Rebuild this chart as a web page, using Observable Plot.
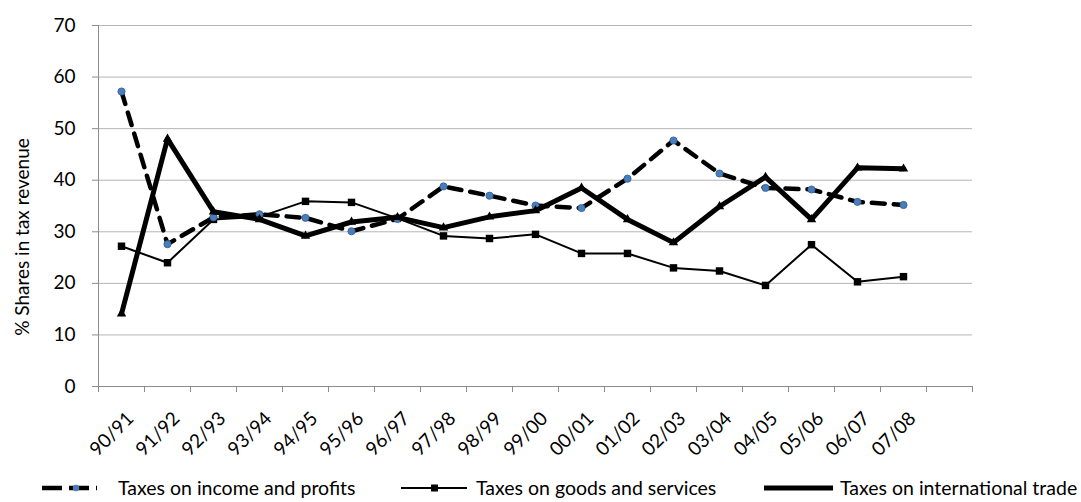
<!DOCTYPE html>
<html><head><meta charset="utf-8">
<script src="https://cdn.jsdelivr.net/npm/d3@7"></script>
<script src="https://cdn.jsdelivr.net/npm/@observablehq/plot@0.6"></script>
<style>
body{margin:0;background:#fff;font-family:Lato,sans-serif;}
#wrap{position:relative;width:1081px;height:502px;overflow:hidden;background:#fff}
#chart{position:absolute;left:0;top:0}
#legend{position:absolute;left:0;top:470px;width:1081px;height:32px}
</style></head><body>
<div id="wrap"><div id="chart"></div><div id="legend"></div></div>
<script>
const years = ["90/91","91/92","92/93","93/94","94/95","95/96","96/97","97/98","98/99","99/00","00/01","01/02","02/03","03/04","04/05","05/06","06/07","07/08"];
const income = [57.2,27.6,32.8,33.4,32.7,30.1,32.5,38.8,37.0,35.1,34.6,40.3,47.7,41.3,38.5,38.2,35.8,35.2];
const goods  = [27.2,24.0,32.4,32.9,35.9,35.7,32.6,29.2,28.7,29.5,25.8,25.8,23.0,22.4,19.6,27.5,20.3,21.3];
const trade  = [14.1,48.0,33.9,32.4,29.2,31.9,32.8,30.8,32.9,34.1,38.5,32.4,27.9,34.9,40.6,32.4,42.4,42.2];
const seriesNames = ["Taxes on income and profits","Taxes on goods and services","Taxes on international trade"];
const yTitle = "% Shares in tax revenue";
const yTicks = [0,10,20,30,40,50,60,70];
const nSlots = 19; // 18 categories plus one empty slot on the axis

const rows = years.map((y,i)=>({year:y, i, income:income[i], goods:goods[i], trade:trade[i]}));
const pos = d => d.i + 0.5;
const FS = 19;
const axisGray = "#8c8c8c";

const chart = Plot.plot({
  width:1081, height:470,
  marginLeft:98, marginRight:109, marginTop:25, marginBottom:84,
  style:{fontFamily:"Lato, sans-serif", fontSize:FS+"px", color:"#000", background:"white", overflow:"visible"},
  x:{type:"linear", domain:[0,nSlots], axis:null},
  y:{domain:[0,70], axis:null},
  marks:[
    Plot.gridY(yTicks,{stroke:"#b5b5b5", strokeOpacity:1, strokeWidth:1}),
    Plot.axisY(yTicks,{tickSize:6, tickPadding:17, stroke:axisGray, label:null, fontSize:FS, fill:"#000"}),
    Plot.ruleX([0],{stroke:axisGray}),
    Plot.axisX(d3.range(0,nSlots+1),{tickSize:6, tickFormat:()=>"", stroke:axisGray, label:null}),
    Plot.ruleY([0],{stroke:axisGray}),
    Plot.text(rows,{x:pos, y:()=>0, text:"year", rotate:-45, textAnchor:"end", dx:9, dy:29, fontSize:FS, fill:"#000"}),
    Plot.text([yTitle],{frameAnchor:"left", text:d=>d, rotate:-90, textAnchor:"middle", dx:-76, dy:31, fontSize:FS, fill:"#000"}),
    // goods and services
    Plot.line(rows,{x:pos, y:"goods", stroke:"#000", strokeWidth:2}),
    Plot.dot(rows,{x:pos, y:"goods", symbol:"square", r:4.2, fill:"#000"}),
    // income and profits
    Plot.line(rows,{x:pos, y:"income", stroke:"#000", strokeWidth:4.5, strokeDasharray:"13,9"}),
    Plot.dot(rows,{x:pos, y:"income", r:3.6, fill:"#4a7ebb", stroke:"#2f5d96", strokeWidth:0.8}),
    // international trade
    Plot.line(rows,{x:pos, y:"trade", stroke:"#000", strokeWidth:5}),
    Plot.dot(rows,{x:pos, y:"trade", symbol:"triangle", r:3.5, fill:"#000"})
  ]
});
document.getElementById("chart").appendChild(chart);

// legend
const lg = d3.select("#legend").append("svg").attr("width",1081).attr("height",32)
  .style("font-family","Lato, sans-serif").style("font-size","19.5px");
const ly = 18;
// item 1
lg.append("line").attr("x1",42).attr("x2",97).attr("y1",ly).attr("y2",ly)
  .attr("stroke","#000").attr("stroke-width",4.5).attr("stroke-dasharray","20,7");
lg.append("circle").attr("cx",76).attr("cy",ly).attr("r",3.2).attr("fill","#4a7ebb");
lg.append("text").attr("x",118).attr("y",ly).attr("dy","0.35em").text(seriesNames[0]);
// item 2
lg.append("line").attr("x1",401).attr("x2",467).attr("y1",ly).attr("y2",ly)
  .attr("stroke","#000").attr("stroke-width",2);
lg.append("rect").attr("x",431).attr("y",ly-3.5).attr("width",7).attr("height",7).attr("fill","#000");
lg.append("text").attr("x",476).attr("y",ly).attr("dy","0.35em").text(seriesNames[1]);
// item 3
lg.append("line").attr("x1",764).attr("x2",833).attr("y1",ly).attr("y2",ly)
  .attr("stroke","#000").attr("stroke-width",5);
lg.append("text").attr("x",840).attr("y",ly).attr("dy","0.35em").text(seriesNames[2]);
</script>
</body></html>
